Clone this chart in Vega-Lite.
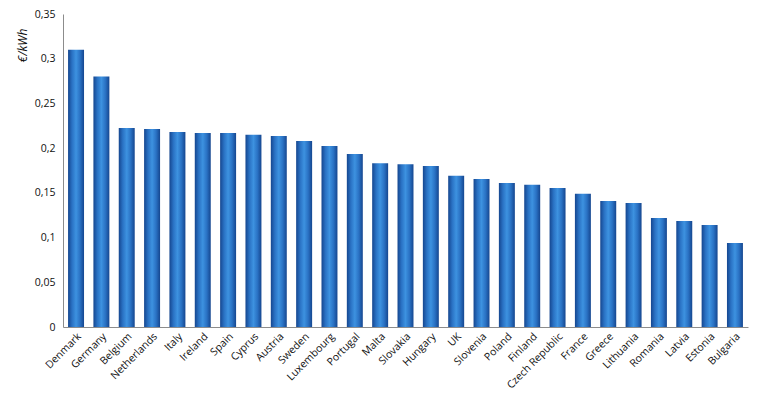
{
  "$schema": "https://vega.github.io/schema/vega-lite/v6.json",
  "autosize": "none",
  "width": 685,
  "height": 313,
  "padding": {"left": 63, "top": 14, "right": 14, "bottom": 70},
  "config": {
    "locale": {"number": {"decimal": ",", "thousands": ".", "grouping": [3], "currency": ["", " €"]}},
    "view": {"stroke": null},
    "font": "Open Sans",
    "axis": {"labelFont": "Open Sans", "labelColor": "#111", "labelFontSize": 10.5, "grid": false, "domainColor": "#8c8c8c", "ticks": false}
  },
  "data": {
    "values": [
      {"country": "Denmark", "price": 0.310},
      {"country": "Germany", "price": 0.280},
      {"country": "Belgium", "price": 0.2225},
      {"country": "Netherlands", "price": 0.2215},
      {"country": "Italy", "price": 0.218},
      {"country": "Ireland", "price": 0.217},
      {"country": "Spain", "price": 0.217},
      {"country": "Cyprus", "price": 0.215},
      {"country": "Austria", "price": 0.2135},
      {"country": "Sweden", "price": 0.208},
      {"country": "Luxembourg", "price": 0.2025},
      {"country": "Portugal", "price": 0.1935},
      {"country": "Malta", "price": 0.183},
      {"country": "Slovakia", "price": 0.182},
      {"country": "Hungary", "price": 0.180},
      {"country": "UK", "price": 0.169},
      {"country": "Slovenia", "price": 0.1655},
      {"country": "Poland", "price": 0.161},
      {"country": "Finland", "price": 0.159},
      {"country": "Czech Republic", "price": 0.1555},
      {"country": "France", "price": 0.149},
      {"country": "Greece", "price": 0.141},
      {"country": "Lithuania", "price": 0.1387},
      {"country": "Romania", "price": 0.122},
      {"country": "Latvia", "price": 0.1186},
      {"country": "Estonia", "price": 0.114},
      {"country": "Bulgaria", "price": 0.094}
    ]
  },
  "mark": {
    "type": "bar",
    "color": {
      "gradient": "linear", "x1": 0, "x2": 1, "y1": 0, "y2": 0,
      "stops": [
        {"offset": 0, "color": "#15468f"},
        {"offset": 0.25, "color": "#2a72c4"},
        {"offset": 0.5, "color": "#3d92e0"},
        {"offset": 0.75, "color": "#2a72c4"},
        {"offset": 1, "color": "#15468f"}
      ]
    }
  },
  "encoding": {
    "x": {
      "field": "country", "type": "nominal", "sort": null,
      "scale": {"paddingInner": 0.37, "paddingOuter": 0.2},
      "axis": {"title": null, "labelAngle": -45, "labelAlign": "right", "labelBaseline": "top", "labelPadding": 4}
    },
    "y": {
      "field": "price", "type": "quantitative",
      "scale": {"domain": [0, 0.35], "nice": false},
      "axis": {
        "values": [0, 0.05, 0.1, 0.15, 0.2, 0.25, 0.3, 0.35],
        "format": "~g",
        "labelPadding": 8,
        "title": "€/kWh",
        "titleFont": "Open Sans",
        "titleFontStyle": "italic",
        "titleFontWeight": "normal",
        "titleFontSize": 12,
        "titleColor": "#111",
        "titleAngle": -90,
        "titleAlign": "center",
        "titleBaseline": "middle",
        "titleX": -41,
        "titleY": 31
      }
    }
  }
}
